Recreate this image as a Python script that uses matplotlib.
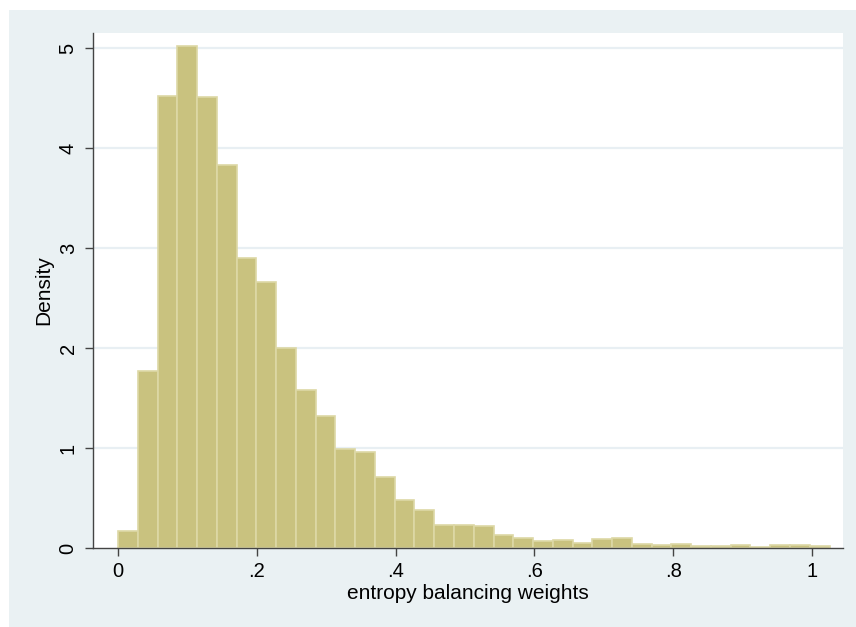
import matplotlib
matplotlib.use("Agg")
import matplotlib.pyplot as plt
import numpy as np
from matplotlib.patches import Rectangle

# Data: histogram densities (Stata-style), 36 bins starting at 0
bin_start = 0.0
bin_width = 0.02848
density = [0.17, 1.77, 4.52, 5.02, 4.51, 3.83, 2.90, 2.66, 2.00, 1.58,
           1.32, 0.99, 0.96, 0.71, 0.48, 0.38, 0.23, 0.23, 0.22, 0.13,
           0.10, 0.07, 0.08, 0.05, 0.09, 0.10, 0.04, 0.03, 0.04, 0.02,
           0.02, 0.03, 0.015, 0.035, 0.035, 0.02]
x_ticks = [0, 0.2, 0.4, 0.6, 0.8, 1.0]
x_ticklabels = ["0", ".2", ".4", ".6", ".8", "1"]
y_ticks = [0, 1, 2, 3, 4, 5]
y_ticklabels = ["0", "1", "2", "3", "4", "5"]
x_title = "entropy balancing weights"
y_title = "Density"

plt.rcParams['font.family'] = ['Liberation Sans', 'DejaVu Sans']

W, H = 856, 627
fig = plt.figure(figsize=(W / 100, H / 100), dpi=100)
fig.patch.set_facecolor("white")
bg = Rectangle((9 / W, 0), 1, (H - 10) / H, transform=fig.transFigure,
               facecolor="#eaf1f3", edgecolor="none", zorder=-10)
fig.patches.append(bg)

ax = fig.add_axes([93 / W, (H - 548) / H, 750 / W, 515 / H])
ax.set_zorder(1)
ax.set_facecolor("white")

edges = bin_start + bin_width * np.arange(len(density))
ax.bar(edges, density, width=bin_width, align="edge",
       color="#c9c27f", edgecolor="#ddd8a6", linewidth=1.2, zorder=3)

ax.set_xlim(-0.036, 1.0447)
ax.set_ylim(0, 5.15)

for y in y_ticks[1:]:
    ax.axhline(y, color="#e8eff3", lw=1.6, zorder=1)

ax.set_xticks(x_ticks)
ax.set_xticklabels(x_ticklabels)
ax.set_yticks(y_ticks)
ax.set_yticklabels(y_ticklabels, rotation=90, va="center")

ax.tick_params(axis="both", direction="out", length=6, width=1.0,
               color="#444444", labelsize=14.5, labelcolor="black")
ax.tick_params(axis="x", pad=4)
ax.tick_params(axis="y", pad=5)

for s in ["top", "right"]:
    ax.spines[s].set_visible(False)
for s in ["left", "bottom"]:
    ax.spines[s].set_color("#444444")
    ax.spines[s].set_linewidth(1.0)
    ax.spines[s].set_zorder(5)

ax.set_xlabel(x_title, fontsize=15, labelpad=2)
ax.set_ylabel(y_title, fontsize=15, labelpad=4)

fig.savefig("out.png", dpi=100)
